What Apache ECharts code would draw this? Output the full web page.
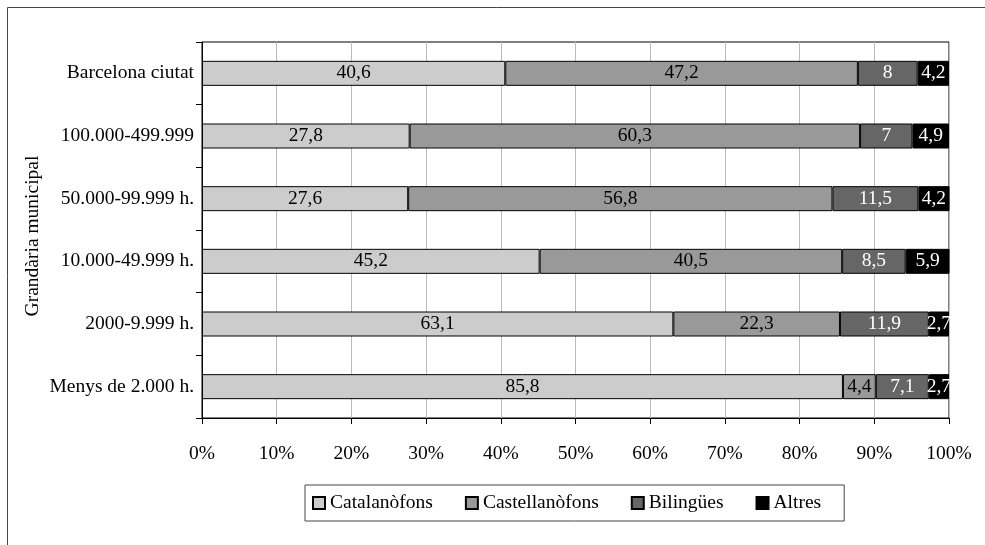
<!DOCTYPE html>
<html>
<head>
<meta charset="utf-8">
<script src="https://cdn.jsdelivr.net/npm/echarts@6/dist/echarts.min.js"></script>
<style>
  html, body { margin: 0; padding: 0; background: #fff; }
  #chart { width: 985px; height: 545px; }
</style>
</head>
<body>
<div id="chart"></div>
<script>
// dades
const categories = ['Barcelona ciutat', '100.000-499.999', '50.000-99.999 h.', '10.000-49.999 h.', '2000-9.999 h.', 'Menys de 2.000 h.'];
const catalanofons = [40.6, 27.8, 27.6, 45.2, 63.1, 85.8];
const castellanofons = [47.2, 60.3, 56.8, 40.5, 22.3, 4.4];
const bilingues = [8, 7, 11.5, 8.5, 11.9, 7.1];
const altres = [4.2, 4.9, 4.2, 5.9, 2.7, 2.7];

const font = 'Liberation Serif';
const fs = 19.5;
const chart = echarts.init(document.getElementById('chart'));

// etiqueta amb coma decimal
function fmt(p) {
  return String(p.value).replace('.', ',');
}

function serie(name, data, color, textColor) {
  return {
    name: name,
    type: 'bar',
    stack: 'total',
    data: data,
    barWidth: 25,
    itemStyle: { color: color, borderColor: '#000', borderWidth: 1 },
    label: {
      show: true,
      position: 'inside',
      formatter: fmt,
      color: textColor,
      fontFamily: font,
      fontSize: fs
    },
    emphasis: { disabled: true }
  };
}

var option = {
  animation: false,
  textStyle: { fontFamily: font },
  graphic: [{
    type: 'rect',
    shape: { x: 7.5, y: 7.5, width: 1000, height: 600 },
    style: { fill: 'none', stroke: '#444', lineWidth: 1 },
    silent: true
  }, {
    // titol de l'eix vertical
    type: 'text',
    x: 33, y: 236,
    rotation: Math.PI / 2,
    style: {
      text: 'Grandària municipal',
      font: fs + 'px "' + font + '"',
      fill: '#000',
      align: 'center',
      verticalAlign: 'middle'
    },
    silent: true
  }],
  grid: {
    left: 202, right: 36, top: 42, bottom: 127,
    show: true, borderColor: '#000', borderWidth: 1
  },
  legend: {
    data: ['Catalanòfons', 'Castellanòfons', 'Bilingües', 'Altres'],
    left: 305, top: 485,
    padding: [8, 23, 8, 7],
    itemWidth: 12, itemHeight: 12, itemGap: 32,
    icon: 'rect',
    borderColor: '#444', borderWidth: 1,
    textStyle: { fontFamily: font, fontSize: fs, color: '#000' }
  },
  xAxis: {
    type: 'value',
    min: 0, max: 100, interval: 10,
    axisLine: { show: true, lineStyle: { color: '#000' } },
    axisTick: { show: true, length: 6, lineStyle: { color: '#000' } },
    splitLine: { show: true, lineStyle: { color: '#bbb' } },
    axisLabel: { formatter: '{value}%', margin: 26, color: '#000', fontFamily: font, fontSize: fs }
  },
  yAxis: {
    type: 'category',
    inverse: true,
    data: categories,
    axisLine: { show: true, lineStyle: { color: '#000' } },
    axisTick: { show: true, length: 6, lineStyle: { color: '#000' } },
    axisLabel: { margin: 8, color: '#000', fontFamily: font, fontSize: fs }
  },
  series: [
    serie('Catalanòfons', catalanofons, '#cccccc', '#000'),
    serie('Castellanòfons', castellanofons, '#999999', '#000'),
    serie('Bilingües', bilingues, '#666666', '#fff'),
    serie('Altres', altres, '#000000', '#fff')
  ]
};
chart.setOption(option);
</script>
</body>
</html>
